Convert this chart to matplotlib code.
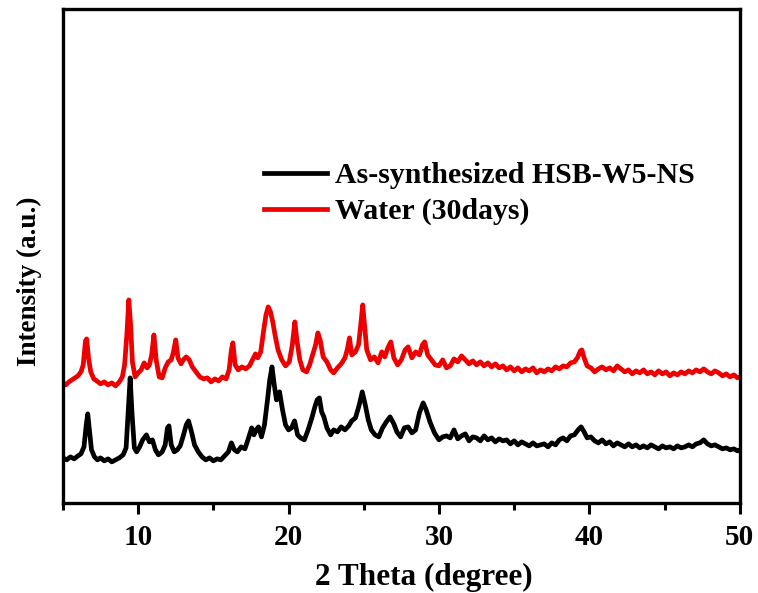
import matplotlib
matplotlib.use('Agg')
import matplotlib.pyplot as plt
from matplotlib.ticker import MultipleLocator

plt.rcParams['font.family'] = ['Liberation Serif', 'DejaVu Serif']
plt.rcParams['font.weight'] = 'bold'

# XRD pattern, as-synthesized sample
two_theta_as = [
    5.0, 5.25, 5.5, 5.75, 6.0, 6.2, 6.4, 6.55, 6.65, 6.75, 6.9, 7.1, 7.3, 7.5, 7.75,
    8.0, 8.25, 8.5, 8.75, 9.0, 9.2, 9.35, 9.47, 9.6, 9.75, 9.9, 10.1, 10.3, 10.55,
    10.75, 10.95, 11.15, 11.35, 11.6, 11.8, 11.95, 12.05, 12.2, 12.4, 12.6, 12.8,
    13.0, 13.2, 13.35, 13.55, 13.75, 14.0, 14.25, 14.5, 14.75, 15.0, 15.25, 15.5,
    15.75, 16.0, 16.2, 16.4, 16.6, 16.85, 17.1, 17.3, 17.55, 17.7, 17.85, 18.0,
    18.2, 18.4, 18.6, 18.75, 18.9, 19.05, 19.2, 19.4, 19.6, 19.8, 20.0, 20.2, 20.4,
    20.6, 20.8, 21.05, 21.3, 21.55, 21.75, 21.9, 22.05, 22.2, 22.35, 22.55, 22.8,
    23.0, 23.25, 23.5, 23.75, 24.0, 24.2, 24.45, 24.7, 24.9, 25.1, 25.3, 25.5,
    25.75, 26.0, 26.25, 26.5, 26.75, 27.0, 27.2, 27.45, 27.7, 27.95, 28.2, 28.45,
    28.7, 28.95, 29.15, 29.4, 29.7, 30.0, 30.25, 30.5, 30.75, 31.0, 31.25, 31.5,
    31.75, 32.0, 32.25, 32.5, 32.75, 33.0, 33.25, 33.5, 33.75, 34.0, 34.25, 34.5,
    34.75, 35.0, 35.25, 35.5, 35.75, 36.0, 36.25, 36.5, 36.75, 37.0, 37.25, 37.5,
    37.75, 38.0, 38.25, 38.5, 38.75, 39.0, 39.25, 39.45, 39.65, 39.85, 40.1, 40.35,
    40.6, 40.85, 41.1, 41.35, 41.6, 41.85, 42.1, 42.35, 42.6, 42.85, 43.1, 43.35,
    43.6, 43.85, 44.1, 44.35, 44.6, 44.85, 45.1, 45.35, 45.6, 45.85, 46.1, 46.35,
    46.6, 46.85, 47.1, 47.35, 47.6, 47.85, 48.1, 48.35, 48.6, 48.85, 49.1, 49.35,
    49.6, 49.85, 50.0,
]
intensity_as = [
    42, 40, 43, 41, 44, 46, 53, 75, 86, 72, 50, 43, 40, 42, 39,
    41, 38, 40, 42, 45, 52, 90, 122, 85, 52, 48, 53, 60, 65,
    58, 60, 50, 45, 48, 55, 72, 74, 55, 48, 50, 54,
    64, 75, 79, 68, 55, 48, 43, 40, 42, 39, 41, 40,
    44, 48, 57, 50, 48, 53, 51, 60, 72, 65, 70, 73,
    63, 75, 100, 120, 133, 115, 100, 108, 90, 75, 70, 72, 79,
    65, 62, 60, 70, 82, 93, 100, 102, 88, 83, 72, 65,
    70, 68, 73, 70, 74, 79, 82, 95, 108, 95, 80, 70,
    65, 63, 72, 78, 83, 76, 68, 63, 72, 73, 67, 70,
    87, 97, 90, 78, 67, 60, 63, 64, 62, 70, 61, 64,
    66, 59, 63, 62, 59, 64, 60, 62, 58, 61, 59, 60,
    56, 59, 55, 58, 56, 54, 57, 54, 55, 56, 53, 57,
    55, 60, 62, 59, 64, 65, 70, 73, 68, 62, 63, 59,
    57, 60, 56, 58, 54, 57, 55, 53, 56, 53, 55, 52,
    54, 52, 55, 53, 51, 54, 52, 53, 51, 54, 52, 53,
    55, 53, 56, 57, 60, 56, 54, 55, 53, 51, 52, 50,
    51, 49, 50,
]

# XRD pattern after 30 days in water
two_theta_water = [
    5.0, 5.2, 5.4, 5.6, 5.8, 6.0, 6.2, 6.35, 6.5, 6.58, 6.7, 6.85, 7.05, 7.25, 7.5,
    7.75, 8.0, 8.25, 8.5, 8.75, 8.95, 9.1, 9.25, 9.38, 9.5, 9.62, 9.8, 10.0, 10.2,
    10.4, 10.6, 10.75, 10.9, 11.05, 11.2, 11.4, 11.6, 11.8, 12.0, 12.2, 12.35, 12.5,
    12.65, 12.85, 13.0, 13.2, 13.4, 13.6, 13.85, 14.1, 14.35, 14.6, 14.85, 15.1,
    15.35, 15.6, 15.85, 16.05, 16.2, 16.3, 16.45, 16.65, 16.9, 17.15, 17.4, 17.6,
    17.8, 17.95, 18.15, 18.35, 18.5, 18.65, 18.8, 18.95, 19.1, 19.3, 19.55, 19.8,
    20.05, 20.25, 20.42, 20.55, 20.75, 20.95, 21.2, 21.4, 21.6, 21.8, 21.95, 22.1,
    22.3, 22.55, 22.8, 23.0, 23.25, 23.5, 23.75, 23.9, 24.05, 24.2, 24.45, 24.65,
    24.8, 24.93, 25.05, 25.2, 25.45, 25.7, 25.95, 26.2, 26.4, 26.6, 26.8, 27.0,
    27.25, 27.5, 27.75, 27.95, 28.2, 28.45, 28.7, 28.9, 29.05, 29.25, 29.5, 29.75,
    30.0, 30.25, 30.5, 30.75, 31.0, 31.25, 31.5, 31.75, 32.0, 32.25, 32.5, 32.75,
    33.0, 33.25, 33.5, 33.75, 34.0, 34.25, 34.5, 34.75, 35.0, 35.25, 35.5, 35.75,
    36.0, 36.25, 36.5, 36.75, 37.0, 37.25, 37.5, 37.75, 38.0, 38.25, 38.5, 38.75,
    39.0, 39.2, 39.4, 39.5, 39.65, 39.85, 40.1, 40.35, 40.6, 40.85, 41.1, 41.35,
    41.6, 41.85, 42.1, 42.35, 42.6, 42.85, 43.1, 43.35, 43.6, 43.85, 44.1, 44.35,
    44.6, 44.85, 45.1, 45.35, 45.6, 45.85, 46.1, 46.35, 46.6, 46.85, 47.1, 47.35,
    47.6, 47.85, 48.1, 48.35, 48.6, 48.85, 49.1, 49.35, 49.6, 49.85, 50.0,
]
intensity_water = [
    117, 115, 118, 120, 122, 124, 128, 135, 159, 161, 142, 128, 121, 119, 116,
    118, 115, 117, 114, 118, 123, 135, 165, 200, 175, 138, 123, 127, 130,
    137, 132, 135, 145, 165, 140, 123, 122, 132, 138, 140, 148, 160,
    142, 136, 140, 143, 140, 133, 128, 123, 121, 122, 118, 121,
    119, 123, 121, 130, 150, 157, 135, 130, 133, 131, 134, 140,
    146, 142, 148, 170, 185, 193, 188, 178, 165, 150, 140, 134,
    138, 155, 178, 160, 140, 130, 128, 135, 145, 155, 167, 160,
    143, 138, 130, 127, 132, 136, 142, 150, 162, 145, 148, 155,
    175, 195, 175, 150, 140, 143, 137, 148, 143, 152, 158, 142,
    135, 140, 150, 153, 142, 148, 145, 155, 158, 145, 140, 135,
    134, 140, 132, 134, 141, 138, 144, 140, 136, 139, 135, 138,
    134, 137, 133, 136, 132, 134, 130, 133, 129, 132, 128, 131,
    129, 132, 127, 130, 128, 131, 129, 133, 131, 134, 133, 137,
    138, 142, 149, 150, 142, 134, 132, 128, 131, 133, 130, 132,
    129, 134, 131, 128, 130, 126, 129, 127, 130, 126, 128, 125,
    129, 126, 128, 124, 127, 125, 128, 126, 129, 127, 130, 128,
    131, 128, 126, 129, 127, 124, 126, 123, 125, 122, 123,
]

fig = plt.figure(figsize=(7.58, 5.93), dpi=100)
ax = fig.add_axes([0.083, 0.152, 0.893, 0.833])

ax.plot(two_theta_as, intensity_as, color='black', lw=3.4,
        label='As-synthesized HSB-W5-NS')
ax.plot(two_theta_water, intensity_water, color='#ee0000', lw=3.4,
        label='Water (30days)')

ax.set_xlim(5, 50)
ax.set_ylim(-3, 491)
ax.xaxis.set_major_locator(MultipleLocator(10))
ax.xaxis.set_minor_locator(MultipleLocator(5))
ax.set_yticks([])
ax.tick_params(axis='x', which='major', direction='out', length=8, width=2.2,
               labelsize=21, pad=7)
ax.tick_params(axis='x', which='minor', direction='out', length=5, width=2.2)
for spine in ax.spines.values():
    spine.set_linewidth(2.4)

ax.set_xlabel('2 Theta (degree)', fontsize=22.5, fontweight='bold')
ax.xaxis.set_label_coords(0.533, -0.122)
ax.set_ylabel('Intensity (a.u.)', fontsize=19.5, fontweight='bold')
ax.yaxis.set_label_coords(-0.031, 0.449)

ax.legend(loc='upper left', bbox_to_anchor=(0.28, 0.714), frameon=False,
          prop={'size': 21.5, 'weight': 'bold'}, handlelength=2.1,
          handletextpad=0.25, labelspacing=0.3, borderaxespad=0)

fig.savefig('out.png', dpi=100)
